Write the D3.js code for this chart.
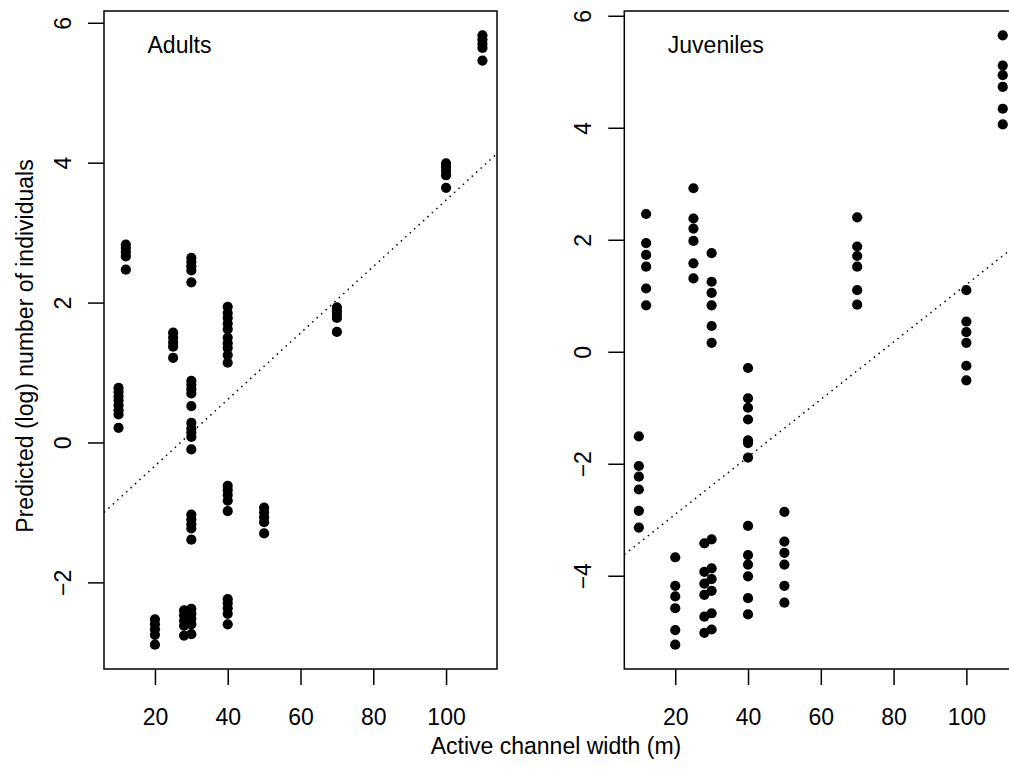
<!DOCTYPE html>
<html>
<head>
<meta charset="utf-8">
<script src="https://cdn.jsdelivr.net/npm/d3@7"></script>
<style>
    body { margin: 0; background: #fff; }
    svg { display: block; font-family: "Liberation Sans", Arial, sans-serif; }
</style>
</head>
<body>
<svg id="chart" width="1009" height="769"></svg>
<script>
// channel widths (m) and the predicted (log) counts at each width
let adultWidths = [10, 12, 20, 25, 28, 30, 40, 50, 70, 100, 110];
let adultPreds = [
    [0.78, 0.72, 0.66, 0.60, 0.53, 0.46, 0.40, 0.21],
    [2.83, 2.78, 2.72, 2.66, 2.47],
    [-2.53, -2.60, -2.67, -2.75, -2.89],
    [1.57, 1.50, 1.43, 1.37, 1.21],
    [-2.40, -2.47, -2.55, -2.62, -2.76],
    [2.64, 2.58, 2.52, 2.46, 2.29, 0.88, 0.82, 0.76, 0.70, 0.52, 0.28, 0.20, 0.14, 0.08, -0.10,
        -1.03, -1.10, -1.17, -1.23, -1.39, -2.38, -2.45, -2.52, -2.60, -2.74],
    [1.94, 1.85, 1.78, 1.70, 1.62, 1.50, 1.42, 1.35, 1.25, 1.14, -0.62, -0.68, -0.75, -0.83, -0.98,
        -2.24, -2.30, -2.37, -2.45, -2.60],
    [-0.93, -1.00, -1.07, -1.14, -1.30],
    [1.93, 1.88, 1.83, 1.78, 1.58],
    [3.99, 3.94, 3.88, 3.82, 3.64],
    [5.82, 5.76, 5.70, 5.64, 5.46]
];

let juvWidths = [10, 12, 20, 25, 28, 30, 40, 50, 70, 100, 110];
let juvPreds = [
    [-1.51, -2.04, -2.23, -2.46, -2.84, -3.14],
    [2.46, 1.94, 1.73, 1.52, 1.13, 0.83],
    [-3.67, -4.18, -4.37, -4.58, -4.97, -5.23],
    [2.92, 2.38, 2.20, 1.98, 1.58, 1.31],
    [-3.42, -3.93, -4.14, -4.34, -4.73, -5.02],
    [1.76, 1.25, 1.05, 0.83, 0.46, 0.16, -3.35, -3.87, -4.06, -4.27, -4.67, -4.96],
    [-0.29, -0.83, -1.00, -1.21, -1.58, -1.63, -1.89, -3.11, -3.63, -3.80, -4.01, -4.40, -4.69],
    [-2.86, -3.39, -3.59, -3.80, -4.18, -4.48],
    [2.40, 1.88, 1.71, 1.52, 1.10, 0.84],
    [1.10, 0.54, 0.35, 0.16, -0.25, -0.51],
    [5.65, 5.11, 4.94, 4.73, 4.34, 4.06]
];

// fitted lines: [intercept, slope]
let adultFit = [-1.285, 0.0475];
let juvFit = [-3.93, 0.0513];

let xTicks = [20, 40, 60, 80, 100];
let adultYTicks = [-2, 0, 2, 4, 6];
let juvYTicks = [-4, -2, 0, 2, 4, 6];

// Layout
let svg = d3.select("#chart");
let plotW = 393, plotH = 658, plotTop = 11;
let fontSize = 23;

function flatten(widths, preds) {
    let pts = [];
    widths.forEach(function (w, i) {
        preds[i].forEach(function (p) { pts.push([w, p]); });
    });
    return pts;
}

// R style range: data extent plus 4% on each side
function padded(ext) {
    let pad = (ext[1] - ext[0]) * 0.04;
    return [ext[0] - pad, ext[1] + pad];
}

function drawPanel(left, title, widths, preds, fit, yTicks) {
    let pts = flatten(widths, preds);
    let x = d3.scaleLinear().domain(padded(d3.extent(pts, d => d[0]))).range([0, plotW]);
    let y = d3.scaleLinear().domain(padded(d3.extent(pts, d => d[1]))).range([plotH, 0]);

    let g = svg.append("g").attr("transform", "translate(" + left + "," + plotTop + ")");

    let clip = "clip" + Math.round(left);
    g.append("clipPath").attr("id", clip)
        .append("rect").attr("width", plotW).attr("height", plotH);

    // dotted fitted line across the plot region
    let x0 = x.domain()[0], x1 = x.domain()[1];
    g.append("line")
        .attr("clip-path", "url(#" + clip + ")")
        .attr("x1", x(x0)).attr("y1", y(fit[0] + fit[1] * x0))
        .attr("x2", x(x1)).attr("y2", y(fit[0] + fit[1] * x1))
        .attr("stroke", "#000")
        .attr("stroke-width", 1.5)
        .attr("stroke-dasharray", "1.5,4.5");

    g.selectAll("circle")
        .data(pts)
        .enter()
        .append("circle")
        .attr("cx", d => x(d[0]))
        .attr("cy", d => y(d[1]))
        .attr("r", 5.1)
        .attr("fill", "#000");

    // box
    g.append("rect")
        .attr("width", plotW).attr("height", plotH)
        .attr("fill", "none").attr("stroke", "#000").attr("stroke-width", 1.5);

    let yAxis = g.append("g")
        .call(d3.axisLeft(y).tickValues(yTicks).tickSize(16).tickSizeOuter(0));
    let xAxis = g.append("g")
        .attr("transform", "translate(0," + plotH + ")")
        .call(d3.axisBottom(x).tickValues(xTicks).tickSize(16).tickSizeOuter(0));

    [yAxis, xAxis].forEach(function (a) {
        a.select(".domain").remove();
        a.selectAll("line").attr("stroke", "#000").attr("stroke-width", 1.5);
        a.selectAll("text")
            .attr("fill", "#000")
            .attr("font-size", fontSize)
            .attr("font-family", "Liberation Sans, Arial, sans-serif");
    });

    yAxis.selectAll("text")
        .attr("transform", "rotate(-90)")
        .attr("x", 0).attr("y", -33).attr("dy", 0)
        .attr("text-anchor", "middle");
    xAxis.selectAll("text")
        .attr("y", 56).attr("dy", 0);

    g.append("text")
        .attr("x", 43.5).attr("y", 41.5)
        .attr("font-size", fontSize)
        .text(title);
}

drawPanel(104, "Adults", adultWidths, adultPreds, adultFit, adultYTicks);
drawPanel(624.3, "Juveniles", juvWidths, juvPreds, juvFit, juvYTicks);

svg.append("text")
    .attr("x", 556).attr("y", 754)
    .attr("text-anchor", "middle")
    .attr("font-size", fontSize)
    .text("Active channel width (m)");

svg.append("text")
    .attr("transform", "translate(33,346) rotate(-90)")
    .attr("text-anchor", "middle")
    .attr("font-size", fontSize)
    .text("Predicted (log) number of individuals");
</script>
</body>
</html>
